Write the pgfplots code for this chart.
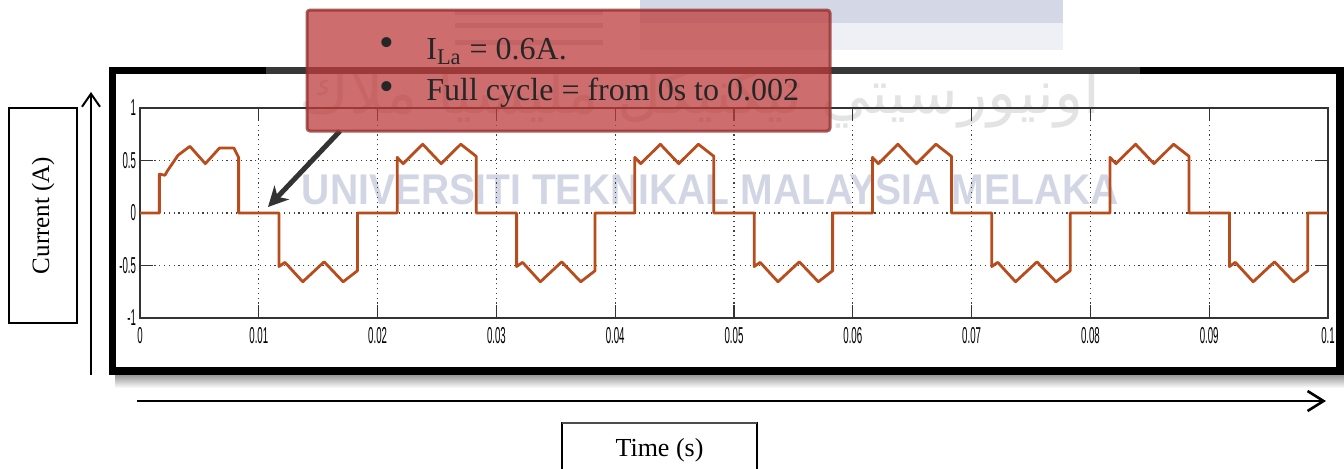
\documentclass[border=0pt]{standalone}
\usepackage{pgfplots}
\pgfplotsset{compat=1.18}
\usepackage{fontspec}
\setmainfont{Liberation Serif}
\newfontfamily\tickfont{Liberation Sans}
\newfontfamily\jawifont[Script=Arabic]{DejaVu Sans}
\usetikzlibrary{arrows.meta}
\TeXXeTstate=1
\definecolor{trace}{RGB}{184,76,28}
\definecolor{wm}{RGB}{210,214,228}
\definecolor{lav}{RGB}{212,216,230}
\definecolor{lavlight}{RGB}{238,240,246}
\newcommand{\tl}[1]{\scalebox{0.42}[1]{\tickfont\fontsize{11.5pt}{12pt}\selectfont #1}}
\begin{document}
\begin{tikzpicture}[x=0.5pt,y=-0.5pt]
\path[use as bounding box] (0,0) rectangle (1344,468);
% faint watermark
\fill[lav] (640,0) rectangle (1063,23);
\fill[lavlight] (640,23) rectangle (1063,50);
\foreach \yy in {12,25,42} \draw[lav, line width=2.5pt] (455,\yy) -- (603,\yy);
\node[text=black!11, inner sep=0] at (700,98) {\resizebox{400pt}{!}{\jawifont\beginR اونيورسيتي تيكنيكل مليسيا ملاك\endR}};
\node[inner sep=0, text=wm] at (710.5,190) {\resizebox{408.5pt}{15pt}{\tickfont\bfseries UNIVERSITI TEKNIKAL MALAYSIA MELAKA}};
\begin{axis}[
 at={(70pt,-54pt)}, anchor=north west,
 width=594pt, height=105pt, scale only axis,
 xmin=0, xmax=0.1, ymin=-1, ymax=1,
 xtick={0,0.01,0.02,0.03,0.04,0.05,0.06,0.07,0.08,0.09,0.1},
 xticklabels={\tl{0},\tl{0.01},\tl{0.02},\tl{0.03},\tl{0.04},\tl{0.05},\tl{0.06},\tl{0.07},\tl{0.08},\tl{0.09},\tl{0.1}},
 ytick={-1,-0.5,0,0.5,1},
 yticklabels={\tl{-1},\tl{-0.5},\tl{0},\tl{0.5},\tl{1}},
 scaled x ticks=false, scaled y ticks=false,
 tick align=inside, tick pos=both, major tick length=6.5pt,
 tick style={black!80, line width=0.6pt},
 grid=major,
 major grid style={black!75, line width=0.6pt, dash pattern=on 0.6pt off 1.8pt},
 axis line style={black!80, line width=0.6pt},
 xticklabel style={yshift=-1pt},
 yticklabel style={xshift=1.5pt},
]
\addplot[trace, line width=1.4pt, line join=round] coordinates {
(0,0) (0.00163,0) (0.00163,0.37) (0.0021,0.36) (0.0023,0.40) (0.0032,0.55) (0.0042,0.635) (0.0055,0.47) (0.0067,0.62) (0.0079,0.62) (0.0083,0.53) (0.0083,0)
(0.0117,0) (0.0117,-0.51) (0.0122,-0.47) (0.0137,-0.655) (0.0155,-0.465) (0.0171,-0.655) (0.0183,-0.55) (0.0183,0)
(0.02165,0) (0.02165,0.53) (0.02215,0.47) (0.0238,0.655) (0.02535,0.47) (0.0270,0.655) (0.0283,0.54) (0.0283,0)
(0.0317,0) (0.0317,-0.51) (0.0322,-0.47) (0.0337,-0.655) (0.0355,-0.465) (0.0371,-0.655) (0.0383,-0.55) (0.0383,0)
(0.04165,0) (0.04165,0.53) (0.04215,0.47) (0.0438,0.655) (0.04535,0.47) (0.0470,0.655) (0.0483,0.54) (0.0483,0)
(0.0517,0) (0.0517,-0.51) (0.0522,-0.47) (0.0537,-0.655) (0.0555,-0.465) (0.0571,-0.655) (0.0583,-0.55) (0.0583,0)
(0.06165,0) (0.06165,0.53) (0.06215,0.47) (0.0638,0.655) (0.06535,0.47) (0.0670,0.655) (0.0683,0.54) (0.0683,0)
(0.0717,0) (0.0717,-0.51) (0.0722,-0.47) (0.0737,-0.655) (0.0755,-0.465) (0.0771,-0.655) (0.0783,-0.55) (0.0783,0)
(0.08165,0) (0.08165,0.53) (0.08215,0.47) (0.0838,0.655) (0.08535,0.47) (0.0870,0.655) (0.0883,0.54) (0.0883,0)
(0.0917,0) (0.0917,-0.51) (0.0922,-0.47) (0.0937,-0.655) (0.0955,-0.465) (0.0971,-0.655) (0.0983,-0.55) (0.0983,0)
(0.1,0)
};
\end{axis}
% frame with shadow
\shade[top color=black!40, bottom color=white] (115,375) rectangle (1344,388);
\draw[line width=3.75pt] (112.5,70.5) rectangle (1340,371);
\draw[black!78, line width=3.75pt] (266,70.5) -- (1140,70.5);
% axis arrows
\draw[line width=1pt, -{Straight Barb[length=6.5pt,width=9pt]}] (91,375) -- (91,92);
\draw[line width=1.3pt, -{Straight Barb[length=8pt,width=10pt]}] (137,401) -- (1326,401);
% label boxes
\draw[line width=0.6pt] (9,108) rectangle (77,323);
\node[rotate=90, font=\fontsize{12.5pt}{14pt}\selectfont] at (43,215.5) {Current (A)};
\draw[line width=0.6pt] (562,472) -- (562,423) -- (757,423) -- (757,472);
\draw[black!70, line width=1.2pt] (562,423) -- (757,423);
\node[font=\fontsize{13pt}{15pt}\selectfont] at (659.5,450) {Time (s)};
% callout
\draw[draw=black!80, line width=2.5pt, -{Stealth[length=10pt,width=10pt,inset=3pt]}] (340,131) -- (268,207);
\draw[draw={rgb,255:red,150;green,50;blue,50}, draw opacity=0.8, line width=1.5pt,
      fill={rgb,255:red,190;green,60;blue,60}, fill opacity=0.75, rounded corners=1.5pt]
      (307,10) rectangle (830,131);
\node[inner sep=0, text=black!85] at (387,47) {\scalebox{2.1}{\textbullet}};
\node[inner sep=0, text=black!85] at (387,91) {\scalebox{2.1}{\textbullet}};
\node[anchor=base west, inner sep=0, font=\fontsize{16pt}{18pt}\selectfont, text=black!85] at (426,59) {I\textsubscript{La} = 0.6A.};
\node[anchor=base west, inner sep=0, font=\fontsize{16pt}{18pt}\selectfont, text=black!85] at (426,100) {Full cycle = from 0s to 0.002};
\end{tikzpicture}
\end{document}
